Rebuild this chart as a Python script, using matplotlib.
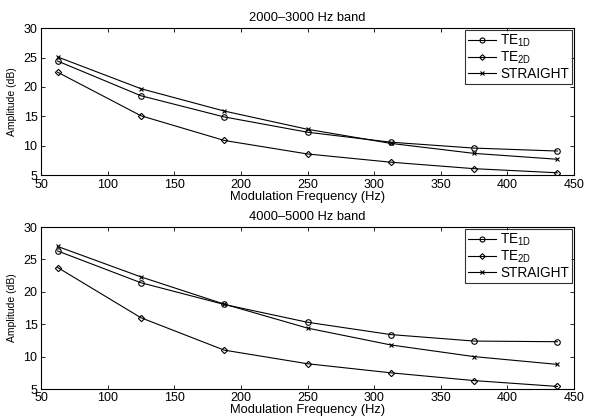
import matplotlib
matplotlib.use("Agg")
import matplotlib.pyplot as plt

plt.rcParams['font.family'] = ['Liberation Sans', 'DejaVu Sans']
plt.rcParams['mathtext.fontset'] = 'custom'
plt.rcParams['mathtext.rm'] = 'Liberation Sans'

freq = [62.5, 125, 187.5, 250, 312.5, 375, 437.5]

# 2000-3000 Hz band
te1d_low = [24.4, 18.5, 14.9, 12.3, 10.6, 9.6, 9.1]
te2d_low = [22.5, 15.1, 10.9, 8.6, 7.2, 6.1, 5.4]
straight_low = [25.1, 19.7, 15.9, 12.8, 10.4, 8.7, 7.7]

# 4000-5000 Hz band
te1d_high = [26.3, 21.4, 18.05, 15.3, 13.4, 12.4, 12.3]
te2d_high = [23.75, 16.0, 11.0, 8.9, 7.5, 6.3, 5.4]
straight_high = [27.0, 22.3, 18.1, 14.4, 11.8, 10.0, 8.8]

titles = ["2000\u20133000 Hz band", "4000\u20135000 Hz band"]
labels = ["TE$_{\\mathregular{1D}}$", "TE$_{\\mathregular{2D}}$", "STRAIGHT"]

fig = plt.figure(figsize=(5.89, 4.17), dpi=100)
ax1 = fig.add_axes([0.0696, 0.580, 0.905, 0.3525])
ax2 = fig.add_axes([0.0696, 0.0671, 0.905, 0.3885])

panels = [(ax1, te1d_low, te2d_low, straight_low),
          (ax2, te1d_high, te2d_high, straight_high)]

for i, (ax, a, b, c) in enumerate(panels):
    ax.plot(freq, a, color='k', lw=0.8, marker='o', ms=4, mfc='none', mew=0.8, label=labels[0])
    ax.plot(freq, b, color='k', lw=0.8, marker='D', ms=3.2, mfc='none', mew=0.8, label=labels[1])
    ax.plot(freq, c, color='k', lw=0.8, marker='x', ms=3, mew=0.8, label=labels[2])
    ax.set_xlim(50, 450)
    ax.set_ylim(5, 30)
    ax.set_xticks(range(50, 451, 50))
    ax.set_yticks(range(5, 31, 5))
    ax.tick_params(direction='in', top=True, right=True, labelsize=9, length=3, width=0.6, pad=2.5)
    for s in ax.spines.values():
        s.set_linewidth(0.8)
    ax.set_title(titles[i], fontsize=9.3, pad=5)
    ax.set_xlabel("Modulation Frequency (Hz)", fontsize=9.3, labelpad=0)
    ax.set_ylabel("Amplitude (dB)", fontsize=7.5)
    ax.yaxis.set_label_coords(-0.045, 0.5)
    leg = ax.legend(loc='upper right', fontsize=9.8, frameon=True, fancybox=False,
                    edgecolor='k', borderaxespad=0.15, handlelength=2.1,
                    labelspacing=0.05, borderpad=0.2, handletextpad=0.3,
                    markerscale=0.9)
    leg.get_frame().set_linewidth(0.8)

fig.savefig("out.png", dpi=100)
